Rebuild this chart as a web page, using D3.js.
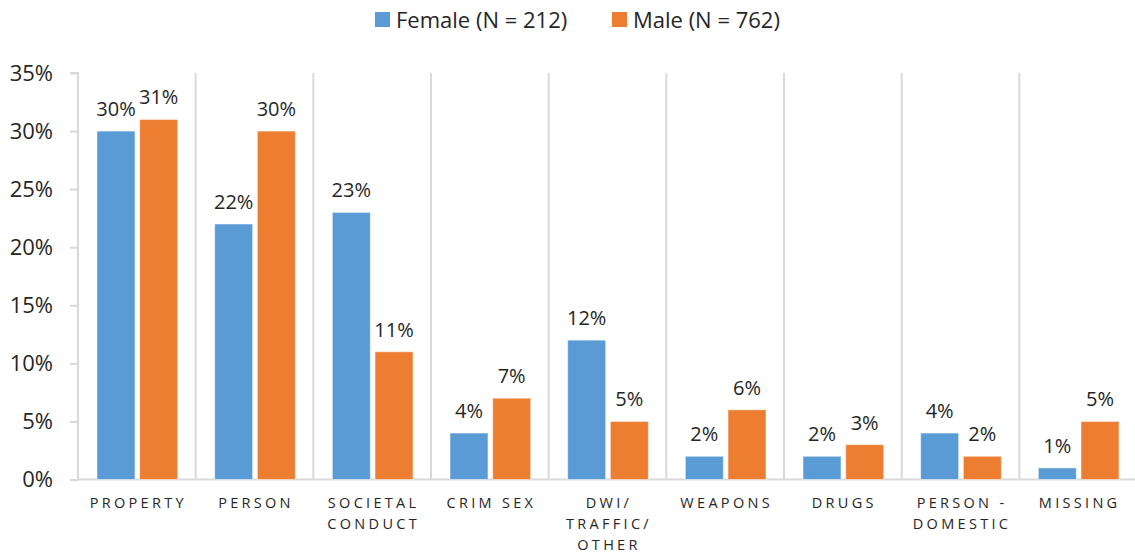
<!DOCTYPE html>
<html>
<head>
<meta charset="utf-8">
<script src="https://cdn.jsdelivr.net/npm/d3@7"></script>
<style>
  body { margin: 0; background: #fff; }
  text { font-family: "Open Sans", "Noto Sans", sans-serif; fill: #262626; }
</style>
</head>
<body>
<div id="chart"></div>
<script>
// data
const categories = [["PROPERTY"], ["PERSON"], ["SOCIETAL", "CONDUCT"], ["CRIM SEX"],
  ["DWI/", "TRAFFIC/", "OTHER"], ["WEAPONS"], ["DRUGS"], ["PERSON -", "DOMESTIC"], ["MISSING"]];
const seriesNames = ["Female (N = 212)", "Male (N = 762)"];
const femaleValues = [30, 22, 23, 4, 12, 2, 2, 4, 1];
const maleValues = [31, 30, 11, 7, 5, 6, 3, 2, 5];
const yTicks = [0, 5, 10, 15, 20, 25, 30, 35];
const colors = ["#5B9BD5", "#ED7D31"];

const width = 1135, height = 557;
const margin = { top: 73, right: 0, bottom: 77, left: 78 };

const svg = d3.select("#chart").append("svg")
  .attr("width", width)
  .attr("height", height);

const keys = categories.map(c => c.join(" "));
const x = d3.scaleBand()
  .domain(keys)
  .range([margin.left, 1137]);

const xInner = d3.scaleBand()
  .domain([0, 1])
  .range([19, x.bandwidth() - 18])
  .paddingInner(0.11);

const y = d3.scaleLinear()
  .domain([0, 35])
  .range([height - margin.bottom - 0.5, margin.top]);

// vertical separators between categories
svg.append("g")
  .selectAll("line")
  .data(keys.slice(1))
  .join("line")
    .attr("x1", d => x(d))
    .attr("x2", d => x(d))
    .attr("y1", y(35))
    .attr("y2", y(0))
    .attr("stroke", "#d9d9d9")
    .attr("stroke-width", 2);

// y axis
const yAxis = d3.axisLeft(y)
  .tickValues(yTicks)
  .tickFormat(d => d + "%")
  .tickSize(8)
  .tickPadding(17);

svg.append("g")
  .attr("transform", `translate(${margin.left},0)`)
  .call(yAxis)
  .call(g => g.select(".domain").attr("stroke", "#d9d9d9").attr("stroke-width", 2).attr("d", `M-8,${y(35)}H0V${y(0)}`))
  .call(g => g.selectAll(".tick line").attr("stroke", "#d9d9d9").attr("stroke-width", 2))
  .call(g => g.selectAll(".tick text")
    .attr("font-size", 22)
    .attr("fill", "#262626")
    .style("font-family", "'Open Sans', sans-serif"));

// baseline
svg.append("line")
  .attr("x1", margin.left)
  .attr("x2", width)
  .attr("y1", y(0))
  .attr("y2", y(0))
  .attr("stroke", "#d9d9d9")
  .attr("stroke-width", 2);

// bars
const rows = keys.map((k, i) => ({ key: k, values: [femaleValues[i], maleValues[i]] }));

const groups = svg.append("g")
  .selectAll("g")
  .data(rows)
  .join("g")
    .attr("transform", d => `translate(${x(d.key)},0)`);

groups.selectAll("rect")
  .data(d => d.values.map((v, s) => ({ v, s })))
  .join("rect")
    .attr("x", d => xInner(d.s))
    .attr("width", xInner.bandwidth())
    .attr("y", d => y(d.v))
    .attr("height", d => y(0) - y(d.v))
    .attr("fill", d => colors[d.s])
    .attr("stroke", "#fff")
    .attr("stroke-opacity", 0.5)
    .attr("stroke-width", 1);

groups.selectAll("text.lbl")
  .data(d => d.values.map((v, s) => ({ v, s })))
  .join("text")
    .attr("class", "lbl")
    .attr("x", d => xInner(d.s) + xInner.bandwidth() / 2)
    .attr("y", d => y(d.v) - 15)
    .attr("text-anchor", "middle")
    .attr("font-size", 20)
    .text(d => d.v + "%");

// category labels
const catLabels = svg.append("g")
  .selectAll("text")
  .data(categories)
  .join("text")
    .attr("x", (d, i) => x(keys[i]) + x.bandwidth() / 2 + 1.5)
    .attr("y", y(0) + 28)
    .attr("text-anchor", "middle")
    .attr("font-size", 14.5)
    .attr("letter-spacing", 3.3)
    .attr("fill", "#404040");

catLabels.selectAll("tspan")
  .data(d => d)
  .join("tspan")
    .attr("x", function() { return d3.select(this.parentNode).attr("x"); })
    .attr("dy", (d, i) => i === 0 ? 0 : 21)
    .text(d => d);

// legend
const legendX = [375, 612];
const legend = svg.append("g")
  .selectAll("g")
  .data(seriesNames)
  .join("g")
    .attr("transform", (d, i) => `translate(${legendX[i]},12)`);

legend.append("rect")
  .attr("width", 15)
  .attr("height", 15)
  .attr("fill", (d, i) => colors[i]);

legend.append("text")
  .attr("x", 21)
  .attr("y", 15.5)
  .attr("font-size", 22)
  .text(d => d);
</script>
</body>
</html>
